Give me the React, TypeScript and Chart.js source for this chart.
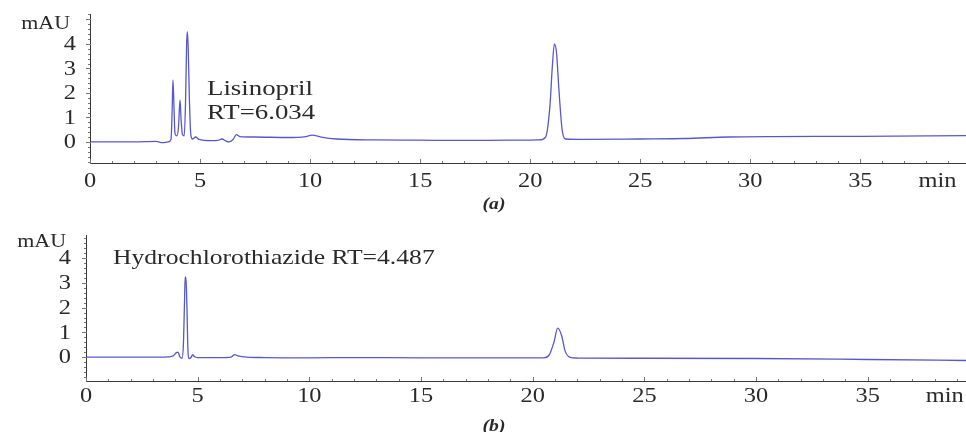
import React, { useEffect, useRef } from "react";
import { Chart, registerables } from "chart.js";

Chart.register(...registerables);

// ---------- data ----------
const timesA = [0, 2, 3.0, 3.3, 3.55, 3.68, 3.73, 3.77, 3.81, 3.86, 3.95, 4.02, 4.09, 4.14, 4.2, 4.28, 4.34, 4.39, 4.42, 4.46, 4.52, 4.58, 4.66, 4.8, 4.95, 5.5, 5.8, 6.0, 6.15, 6.3, 6.5, 6.65, 6.8, 7.5, 9, 9.8, 10.1, 10.5, 11.2, 13, 15, 17, 19, 20.4, 20.7, 20.9, 21.0, 21.1, 21.2, 21.3, 21.45, 21.6, 22.5, 25, 27, 29, 31, 35, 39.8];
const valuesA = [0.0, 0.0, 0.02, -0.03, 0.0, 0.1, 1.2, 2.53, 1.6, 0.35, 0.25, 0.6, 1.71, 0.9, 0.3, 0.25, 1.6, 4.0, 4.5, 3.9, 1.6, 0.3, 0.12, 0.2, 0.1, 0.05, 0.06, 0.12, 0.05, 0.0, 0.1, 0.3, 0.22, 0.2, 0.18, 0.22, 0.28, 0.2, 0.12, 0.08, 0.07, 0.06, 0.07, 0.08, 0.2, 1.5, 3.0, 4.0, 3.6, 2.2, 0.5, 0.12, 0.1, 0.12, 0.14, 0.2, 0.22, 0.23, 0.26];

const timesB = [0, 2, 3.5, 3.9, 4.05, 4.12, 4.2, 4.3, 4.36, 4.41, 4.44, 4.48, 4.52, 4.56, 4.62, 4.7, 4.78, 4.85, 5.0, 6.0, 6.5, 6.65, 6.8, 7.2, 8, 10, 12, 15, 18, 20.5, 20.75, 20.95, 21.12, 21.3, 21.45, 21.65, 22, 25, 30, 35, 39.4];
const valuesB = [0.0, 0.0, 0.0, 0.05, 0.18, 0.2, 0.02, -0.05, 0.5, 2.2, 3.24, 3.1, 2.0, 0.4, -0.06, -0.02, 0.1, 0.02, -0.02, -0.02, 0.0, 0.1, 0.05, 0.0, -0.02, -0.03, -0.02, -0.03, -0.03, -0.03, 0.1, 0.6, 1.17, 0.85, 0.25, 0.0, -0.04, -0.05, -0.06, -0.1, -0.14];

const yTickLabels = [0, 1, 2, 3, 4];
const xTickLabels = [0, 5, 10, 15, 20, 25, 30, 35];

const FONT = "'Liberation Serif', 'Times New Roman', serif";
const STRETCH = 1.22;
const TEXT_COLOR = "#2a2a2a";
const AXIS_COLOR = "#3a3a3a";
const LINE_COLOR = "rgb(88, 88, 205)";

type PanelCfg = {
  times: number[];
  values: number[];
  xMax: number;
  yMin: number;
  yMax: number;
  left: number;
  top: number;
  bottom: number;
  height: number;
  yLabelRight: number;
  xLabelY: number;
  minX: number;
  mauRight: number;
  mauY: number;
  notes: { text: string; x: number; y: number }[];
  noteSize: number;
  panelLabel: string;
  panelLabelY: number;
};

function drawText(ctx: CanvasRenderingContext2D, text: string, x: number, y: number, font: string, align: CanvasTextAlign, baseline: CanvasTextBaseline) {
  ctx.save();
  ctx.translate(x, y);
  ctx.scale(STRETCH, 1);
  ctx.font = font;
  ctx.textAlign = align;
  ctx.textBaseline = baseline;
  ctx.fillStyle = TEXT_COLOR;
  ctx.fillText(text, 0, 0);
  ctx.restore();
}

function makeAxesPlugin(cfg: PanelCfg) {
  return {
    id: "chromAxes",
    afterDatasetsDraw(chart: any) {
      const ctx: CanvasRenderingContext2D = chart.ctx;
      const xs = chart.scales.x;
      const ys = chart.scales.y;
      const area = chart.chartArea;
      ctx.save();
      ctx.strokeStyle = AXIS_COLOR;
      ctx.lineWidth = 1;
      // axis lines
      ctx.beginPath();
      ctx.moveTo(Math.round(area.left) + 0.5, area.top);
      ctx.lineTo(Math.round(area.left) + 0.5, Math.round(area.bottom) + 0.5);
      ctx.lineTo(area.right, Math.round(area.bottom) + 0.5);
      ctx.stroke();
      // y ticks
      ctx.strokeStyle = "#777";
      ctx.beginPath();
      for (let k = Math.ceil(ys.min / 0.2); k * 0.2 <= ys.max; k++) {
        const v = k * 0.2;
        const major = k % 5 === 0;
        const py = Math.round(ys.getPixelForValue(v)) + 0.5;
        ctx.moveTo(area.left - (major ? 4 : 2), py);
        ctx.lineTo(area.left + (major ? 1 : 0), py);
      }
      // x ticks
      for (let t = 0; t <= xs.max; t++) {
        const major = t % 5 === 0;
        const px = Math.round(xs.getPixelForValue(t)) + 0.5;
        ctx.moveTo(px, area.bottom);
        ctx.lineTo(px, area.bottom - (major ? 4 : 2));
      }
      ctx.stroke();
      ctx.restore();

      const tickFont = `20px ${FONT}`;
      yTickLabels.forEach((v) => {
        drawText(ctx, String(v), cfg.yLabelRight, ys.getPixelForValue(v) + 1, tickFont, "right", "middle");
      });
      xTickLabels.forEach((v) => {
        drawText(ctx, String(v), xs.getPixelForValue(v), cfg.xLabelY, tickFont, "center", "middle");
      });
      drawText(ctx, "min", xs.getPixelForValue(cfg.minX), cfg.xLabelY, tickFont, "center", "middle");
      drawText(ctx, "mAU", cfg.mauRight, cfg.mauY, `18px ${FONT}`, "right", "middle");
      cfg.notes.forEach((n) => {
        drawText(ctx, n.text, n.x, n.y, `${cfg.noteSize}px ${FONT}`, "left", "alphabetic");
      });
      drawText(ctx, cfg.panelLabel, 494, cfg.panelLabelY, `italic bold 16px ${FONT}`, "center", "middle");
    },
  };
}

function Panel({ cfg }: { cfg: PanelCfg }) {
  const ref = useRef<HTMLCanvasElement | null>(null);
  useEffect(() => {
    if (!ref.current) return;
    const points = cfg.times.map((t, i) => ({ x: t, y: cfg.values[i] }));
    const chart = new Chart(ref.current, {
      type: "line",
      data: {
        datasets: [
          {
            data: points,
            borderColor: LINE_COLOR,
            borderWidth: 1.3,
            pointRadius: 0,
            cubicInterpolationMode: "monotone",
            fill: false,
          },
        ],
      },
      options: {
        animation: false,
        responsive: false,
        devicePixelRatio: 1,
        events: [],
        layout: { padding: { top: cfg.top, left: 0, right: 0, bottom: 0 } },
        plugins: { legend: { display: false }, tooltip: { enabled: false } },
        scales: {
          x: {
            type: "linear",
            min: 0,
            max: cfg.xMax,
            ticks: { display: false },
            grid: { display: false },
            border: { display: false },
            afterFit: (s: any) => {
              s.height = cfg.height - cfg.bottom;
            },
          },
          y: {
            type: "linear",
            min: cfg.yMin,
            max: cfg.yMax,
            ticks: { display: false },
            grid: { display: false },
            border: { display: false },
            afterFit: (s: any) => {
              s.width = cfg.left;
            },
          },
        },
      } as any,
      plugins: [makeAxesPlugin(cfg) as any],
    });
    return () => chart.destroy();
  }, [cfg]);
  return <canvas ref={ref} width={966} height={cfg.height} style={{ display: "block", width: 966, height: cfg.height }} />;
}

const panelA: PanelCfg = {
  times: timesA,
  values: valuesA,
  xMax: 39.8,
  yMin: -0.86,
  yMax: 5.22,
  left: 90,
  top: 14,
  bottom: 163,
  height: 216,
  yLabelRight: 76,
  xLabelY: 182,
  minX: 38.5,
  mauRight: 70,
  mauY: 24,
  notes: [
    { text: "Lisinopril", x: 207, y: 95 },
    { text: "RT=6.034", x: 207, y: 119 },
  ],
  noteSize: 22,
  panelLabel: "(a)",
  panelLabelY: 205,
};

const panelB: PanelCfg = {
  times: timesB,
  values: valuesB,
  xMax: 39.4,
  yMin: -0.97,
  yMax: 4.94,
  left: 86,
  top: 19,
  bottom: 165,
  height: 216,
  yLabelRight: 71,
  xLabelY: 181,
  minX: 38.45,
  mauRight: 66,
  mauY: 26,
  notes: [{ text: "Hydrochlorothiazide RT=4.487", x: 113, y: 48 }],
  noteSize: 21,
  panelLabel: "(b)",
  panelLabelY: 211,
};

export default function App() {
  return (
    <div style={{ position: "absolute", left: 0, top: 0, width: 966, height: 432, background: "#fff", overflow: "hidden" }}>
      <Panel cfg={panelA} />
      <Panel cfg={panelB} />
    </div>
  );
}
